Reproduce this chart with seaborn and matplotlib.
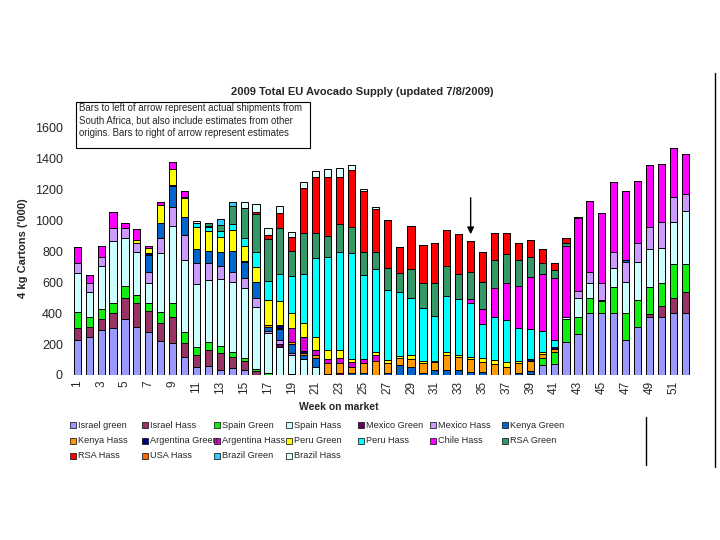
import pandas as pd
import seaborn as sns
import matplotlib.pyplot as plt
from matplotlib.patches import Rectangle
from matplotlib.lines import Line2D

sns.set_style('white')
plt.rcParams['font.family'] = ['Liberation Sans', 'DejaVu Sans']

weeks = list(range(1, 53))

# thousands of 4 kg cartons per week
israel_green = [227, 244, 292, 302, 361, 313, 281, 222, 210, 119,
                54, 60, 32, 43, 32, 0, 0, 0, 0, 0,
                0, 0, 0, 0, 0, 0, 0, 0, 0, 0,
                0, 0, 0, 0, 0, 0, 0, 0, 0, 65,
                71, 216, 264, 400, 400, 400, 227, 309, 378, 374,
                400, 400]
israel_hass = [80, 69, 69, 102, 136, 151, 136, 113, 164, 86,
               76, 102, 112, 71, 58, 24, 0, 0, 0, 0,
               0, 0, 0, 0, 0, 0, 0, 0, 0, 0,
               0, 0, 0, 0, 0, 0, 0, 0, 0, 0,
               0, 0, 0, 0, 0, 0, 0, 0, 17, 73,
               97, 136]
spain_green = [103, 65, 67, 65, 80, 54, 52, 75, 90, 76,
               54, 54, 45, 32, 17, 15, 15, 0, 4, 0,
               0, 0, 0, 0, 0, 0, 0, 0, 0, 0,
               0, 0, 0, 0, 0, 0, 0, 0, 6, 43,
               80, 145, 110, 97, 76, 168, 173, 177, 173, 151,
               220, 181]
spain_hass = [253, 162, 278, 401, 309, 281, 129, 378, 502, 464,
              404, 400, 430, 454, 454, 404, 255, 179, 125, 101,
              54, 0, 0, 0, 0, 0, 0, 0, 0, 0,
              0, 0, 0, 0, 0, 0, 0, 0, 0, 0,
              0, 17, 123, 102, 10, 123, 201, 248, 248, 222,
              276, 348]
mexico_green = [0, 0, 0, 0, 0, 0, 0, 0, 0, 0,
                0, 0, 0, 0, 0, 0, 0, 22, 0, 0,
                0, 8, 10, 0, 0, 0, 0, 0, 0, 0,
                0, 0, 0, 0, 0, 0, 0, 0, 0, 0,
                0, 0, 0, 0, 0, 0, 0, 0, 0, 0,
                0, 0]
mexico_hass = [61, 54, 56, 85, 69, 59, 72, 98, 120, 162,
               136, 110, 86, 70, 69, 54, 12, 26, 11, 0,
               0, 0, 0, 0, 0, 0, 0, 0, 0, 0,
               0, 0, 0, 0, 0, 0, 0, 0, 0, 0,
               0, 0, 50, 71, 111, 108, 130, 123, 140, 168,
               162, 106]
kenya_green = [0, 0, 0, 0, 0, 0, 108, 97, 139, 119,
               90, 80, 93, 130, 104, 104, 32, 69, 60, 30,
               54, 0, 0, 10, 15, 0, 15, 65, 54, 10,
               32, 32, 32, 22, 22, 0, 0, 11, 17, 0,
               0, 0, 0, 0, 0, 0, 15, 0, 0, 0,
               0, 0]
kenya_hass = [0, 0, 0, 0, 0, 0, 0, 0, 0, 0,
              5, 0, 0, 0, 6, 0, 11, 11, 11, 13,
              22, 68, 66, 44, 65, 93, 61, 43, 50, 70,
              54, 98, 82, 80, 65, 69, 54, 69, 69, 26,
              20, 0, 0, 0, 0, 0, 0, 0, 0, 0,
              0, 0]
argentina_green = [0, 0, 0, 0, 0, 0, 15, 0, 8, 0,
                   0, 0, 0, 0, 0, 0, 0, 17, 0, 13,
                   0, 0, 0, 0, 0, 0, 0, 0, 0, 0,
                   7, 0, 0, 0, 0, 0, 0, 0, 10, 0,
                   13, 0, 0, 0, 0, 0, 0, 0, 0, 0,
                   0, 0]
argentina_hass = [0, 0, 0, 0, 0, 0, 0, 0, 0, 0,
                  0, 0, 0, 0, 0, 0, 0, 0, 95, 91,
                  32, 26, 36, 30, 22, 37, 0, 0, 0, 0,
                  0, 0, 0, 0, 0, 0, 0, 0, 0, 0,
                  0, 0, 0, 0, 0, 0, 0, 0, 0, 0,
                  0, 0]
peru_green = [0, 0, 0, 0, 0, 17, 28, 119, 100, 119,
              142, 128, 97, 140, 95, 101, 162, 158, 93, 91,
              86, 60, 50, 18, 0, 22, 21, 15, 26, 13,
              0, 19, 15, 17, 22, 28, 32, 13, 0, 13,
              0, 0, 0, 0, 0, 0, 0, 0, 0, 0,
              0, 0]
peru_hass = [0, 0, 0, 0, 0, 0, 0, 0, 0, 10,
             26, 24, 39, 38, 50, 97, 123, 173, 244, 315,
             510, 605, 637, 686, 546, 533, 454, 417, 367, 339,
             289, 365, 363, 350, 220, 281, 270, 210, 194, 138,
             43, 0, 0, 0, 0, 0, 0, 0, 0, 0,
             0, 0]
chile_hass = [103, 54, 74, 103, 28, 69, 15, 21, 45, 37,
              0, 10, 0, 0, 0, 0, 0, 0, 0, 0,
              0, 0, 0, 0, 0, 0, 0, 0, 0, 0,
              0, 0, 0, 22, 97, 184, 238, 276, 341, 367,
              400, 460, 469, 458, 454, 454, 447, 400, 404, 378,
              313, 261]
rsa_green = [0, 0, 0, 0, 0, 0, 0, 0, 0, 0,
             0, 18, 37, 117, 194, 244, 272, 300, 160, 263,
             164, 134, 177, 169, 151, 114, 140, 123, 188, 166,
             212, 192, 160, 179, 179, 184, 188, 166, 130, 76,
             50, 19, 0, 0, 0, 0, 0, 0, 0, 0,
             0, 0]
rsa_hass = [0, 0, 0, 0, 0, 0, 0, 0, 0, 0,
            0, 0, 0, 0, 0, 11, 22, 93, 92, 292,
            359, 380, 309, 371, 395, 274, 313, 164, 281, 244,
            259, 234, 259, 201, 190, 173, 140, 112, 108, 89,
            48, 28, 6, 0, 0, 0, 0, 0, 0, 0,
            0, 0]
usa_hass = [0] * 52
brazil_green = [0, 0, 0, 0, 0, 0, 0, 0, 0, 0,
                0, 0, 37, 25, 0, 0, 0, 0, 0, 0,
                0, 0, 0, 0, 0, 0, 0, 0, 0, 0,
                0, 0, 0, 0, 0, 0, 0, 0, 0, 0,
                0, 0, 0, 0, 0, 0, 0, 0, 0, 0,
                0, 0]
brazil_hass = [0, 0, 0, 0, 0, 0, 0, 0, 0, 0,
               11, 0, 0, 0, 39, 54, 50, 48, 34, 43,
               43, 54, 54, 33, 11, 18, 0, 0, 0, 0,
               0, 0, 0, 0, 0, 0, 0, 0, 0, 0,
               0, 0, 0, 0, 0, 0, 0, 0, 0, 0,
               0, 0]

origins = ['Israel green', 'Israel Hass', 'Spain Green', 'Spain Hass',
           'Mexico Green', 'Mexico Hass', 'Kenya Green', 'Kenya Hass',
           'Argentina Green', 'Argentina Hass', 'Peru Green', 'Peru Hass',
           'Chile Hass', 'RSA Green', 'RSA Hass', 'USA Hass',
           'Brazil Green', 'Brazil Hass']
colours = ['#9999FF', '#993366', '#11EE11', '#CCFFFF',
           '#660066', '#CC99FF', '#0066CC', '#FF9900',
           '#000080', '#DD00DD', '#FFFF00', '#00FFFF',
           '#FF00FF', '#339966', '#FF0000', '#FF6600',
           '#33CCFF', '#E0FFFF']
series = [israel_green, israel_hass, spain_green, spain_hass,
          mexico_green, mexico_hass, kenya_green, kenya_hass,
          argentina_green, argentina_hass, peru_green, peru_hass,
          chile_hass, rsa_green, rsa_hass, usa_hass,
          brazil_green, brazil_hass]

rows = []
for name, vals in zip(origins, series):
    for w, v in zip(weeks, vals):
        rows.append((w, name, v))
df = pd.DataFrame(rows, columns=['week', 'origin', 'cartons'])

fig = plt.figure(figsize=(7.2, 5.4), dpi=100)
ax = fig.add_axes([0.099, 0.3056, 0.861, 0.4574])

# seaborn stacks the first hue level on top, so reverse the order
sns.histplot(data=df, x='week', weights='cartons', hue='origin',
             hue_order=origins[::-1], multiple='stack', discrete=True,
             shrink=0.6, palette=dict(zip(origins, colours)),
             edgecolor='black', linewidth=0.7, alpha=1, legend=False, ax=ax)

ax.set_xlim(0.5, 52.5)
ax.set_ylim(0, 1600)
ax.set_yticks(range(0, 1601, 200))
ax.set_xticks(range(1, 52, 2))
ax.tick_params(axis='y', length=0, pad=6, labelsize=9)
ax.tick_params(axis='x', length=0, pad=4, labelsize=8.5, labelrotation=90)
ax.set_xlabel('')
ax.set_ylabel('')
for s in ax.spines.values():
    s.set_visible(False)

ax.annotate('', xy=(34, 894), xytext=(34, 1166),
            arrowprops=dict(arrowstyle='-|>', color='black', lw=1, mutation_scale=10))

W, H = 720, 540
fig.text(362 / W, 1 - 92 / H, '2009 Total EU Avocado Supply (updated 7/8/2009)',
         ha='center', va='center', fontsize=8, fontweight='bold')
fig.text(23 / W, 1 - 248 / H, "4 kg Cartons ('000)", rotation=90,
         ha='center', va='center', fontsize=8, fontweight='bold')
fig.text(339 / W, 1 - 407 / H, 'Week on market',
         ha='center', va='center', fontsize=7.5, fontweight='bold')

# note box
fig.add_artist(Rectangle((76 / W, 1 - 148 / H), 234 / W, 46 / H,
                         transform=fig.transFigure, facecolor='white',
                         edgecolor='black', linewidth=0.8))
fig.text(79 / W, 1 - 103 / H,
         'Bars to left of arrow represent actual shipments from\n'
         'South Africa, but also include estimates from other\n'
         'origins. Bars to right of arrow represent estimates',
         ha='left', va='top', fontsize=6.9, linespacing=1.3)

# legend, laid out in the same 7-column grid as the original
for i, (name, col) in enumerate(zip(origins, colours)):
    r, c = divmod(i, 7)
    x = 70 + c * 72
    y = 425 + r * 15.5
    fig.add_artist(Rectangle((x / W, 1 - (y + 3) / H), 6 / W, 6 / H,
                             transform=fig.transFigure, facecolor=col,
                             edgecolor='black', linewidth=0.5))
    fig.text((x + 8) / W, 1 - y / H, name, ha='left', va='center', fontsize=6.6)

fig.add_artist(Line2D([715 / W, 715 / W], [1 - 73 / H, 1 - 467 / H],
                      transform=fig.transFigure, color='black', lw=1))
fig.add_artist(Line2D([646 / W, 646 / W], [1 - 417 / H, 1 - 465 / H],
                      transform=fig.transFigure, color='black', lw=1))

fig.savefig('out.png', dpi=100, facecolor='white')
